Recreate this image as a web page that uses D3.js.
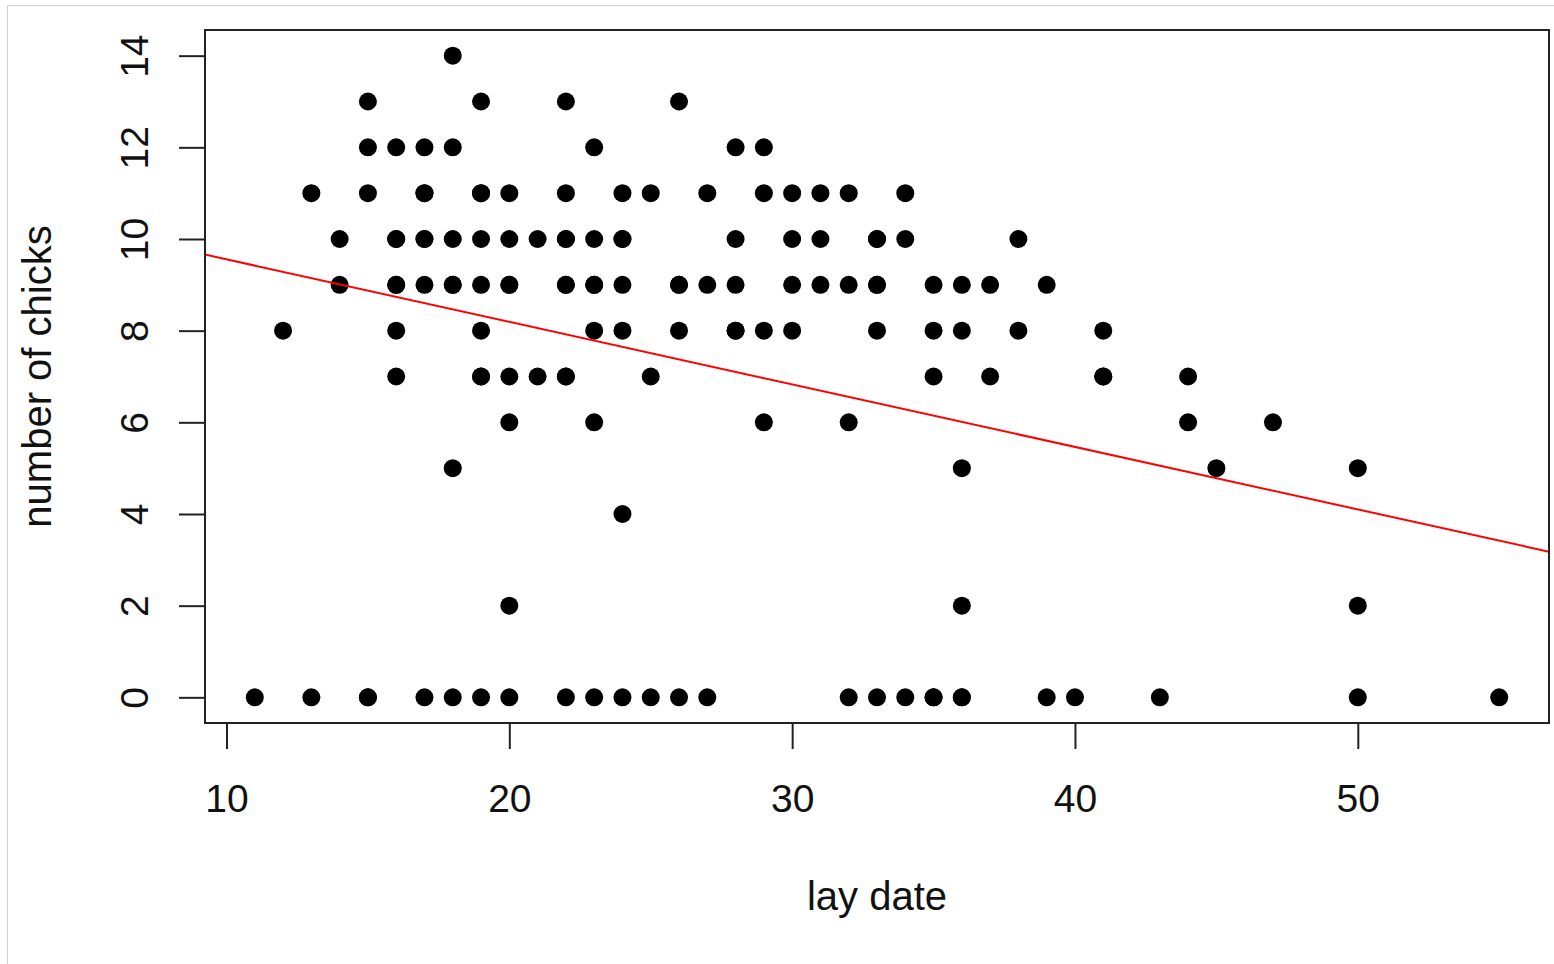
<!DOCTYPE html>
<html>
<head>
<meta charset="utf-8">
<script src="https://cdn.jsdelivr.net/npm/d3@7"></script>
<style>
  body { margin: 0; background: #fff; }
  text { font-family: "Liberation Sans", Arial, Helvetica, sans-serif; fill: #111; }
</style>
</head>
<body>
<div id="chart"></div>
<script>
// lay date (x) and number of chicks (y), one entry per nest
var layDate = [
  11, 12, 13, 13, 14, 14,
  15, 15, 15, 15, 15,
  16, 16, 16, 16, 16, 16, 16,
  17, 17, 17, 17, 17, 17, 17,
  18, 18, 18, 18, 18, 18, 18,
  19, 19, 19, 19, 19, 19, 19, 19, 19,
  20, 20, 20, 20, 20, 20, 20, 20,
  21, 21,
  22, 22, 22, 22, 22, 22, 22, 22, 22,
  23, 23, 23, 23, 23, 23, 23,
  24, 24, 24, 24, 24, 24, 24,
  25, 25, 25,
  26, 26, 26, 26, 26,
  27, 27, 27,
  28, 28, 28, 28, 28,
  29, 29, 29, 29,
  30, 30, 30, 30,
  31, 31, 31,
  32, 32, 32, 32,
  33, 33, 33, 33, 33, 33,
  34, 34, 34,
  35, 35, 35, 35, 35,
  36, 36, 36, 36, 36, 36,
  37, 37,
  38, 38,
  39, 39,
  40,
  41, 41, 41,
  43,
  44, 44,
  45,
  47,
  50, 50, 50,
  55
];
var chicks = [
  0, 8, 11, 0, 10, 9,
  13, 12, 11, 0, 0,
  12, 10, 10, 9, 9, 8, 7,
  12, 11, 11, 10, 10, 9, 0,
  14, 12, 10, 9, 9, 5, 0,
  13, 11, 11, 10, 9, 8, 7, 7, 0,
  11, 10, 9, 9, 7, 6, 2, 0,
  10, 7,
  13, 11, 10, 10, 9, 9, 7, 7, 0,
  12, 10, 9, 9, 8, 6, 0,
  11, 10, 10, 9, 8, 4, 0,
  11, 7, 0,
  13, 9, 9, 8, 0,
  11, 9, 0,
  12, 10, 9, 8, 8,
  12, 11, 8, 6,
  11, 10, 9, 8,
  11, 10, 9,
  11, 9, 6, 0,
  10, 10, 9, 9, 8, 0,
  11, 10, 0,
  9, 8, 7, 0, 0,
  9, 8, 5, 2, 0, 0,
  9, 7,
  10, 8,
  9, 0,
  0,
  8, 7, 7,
  0,
  7, 6,
  5,
  6,
  5, 2, 0,
  0
];

// fitted line: chicks = intercept + slope * layDate
var fitIntercept = 10.92;
var fitSlope = -0.1364;

var xTicks = [10, 20, 30, 40, 50];
var yTicks = [0, 2, 4, 6, 8, 10, 12, 14];

var width = 1554, height = 964;
var plot = { left: 205, right: 1549, top: 30, bottom: 723 };

var svg = d3.select("#chart").append("svg")
    .attr("width", width)
    .attr("height", height);

// faint page frame (left and top edges)
svg.append("path")
    .attr("d", "M7.5," + height + "V5.5H" + width)
    .attr("fill", "none")
    .attr("stroke", "#cfcfcf")
    .attr("stroke-width", 1);

// R-style 4% padding on each side of the data range
var xr = d3.extent(layDate), yr = d3.extent(chicks);
var xPad = (xr[1] - xr[0]) * 0.04, yPad = (yr[1] - yr[0]) * 0.04;

var x = d3.scaleLinear()
    .domain([xr[0] - xPad, xr[1] + xPad])
    .range([plot.left, plot.right]);
var y = d3.scaleLinear()
    .domain([yr[0] - yPad, yr[1] + yPad])
    .range([plot.bottom, plot.top]);

var points = layDate.map(function(d, i) { return { x: d, y: chicks[i] }; });

// clip for the regression line
svg.append("clipPath").attr("id", "clip")
  .append("rect")
    .attr("x", plot.left).attr("y", plot.top)
    .attr("width", plot.right - plot.left)
    .attr("height", plot.bottom - plot.top);

svg.append("g").selectAll("circle")
    .data(points)
  .enter().append("circle")
    .attr("cx", function(d) { return x(d.x); })
    .attr("cy", function(d) { return y(d.y); })
    .attr("r", 9)
    .style("fill", "#000");

var x0 = x.domain()[0], x1 = x.domain()[1];
svg.append("line")
    .attr("clip-path", "url(#clip)")
    .attr("x1", x(x0))
    .attr("y1", y(fitIntercept + fitSlope * x0))
    .attr("x2", x(x1))
    .attr("y2", y(fitIntercept + fitSlope * x1))
    .attr("stroke", "#ff0000")
    .attr("stroke-width", 2);

// plot box
svg.append("rect")
    .attr("x", plot.left).attr("y", plot.top)
    .attr("width", plot.right - plot.left)
    .attr("height", plot.bottom - plot.top)
    .attr("fill", "none")
    .attr("stroke", "#222")
    .attr("stroke-width", 2);

// x axis
var xAxis = svg.append("g")
    .attr("transform", "translate(0," + plot.bottom + ")")
    .call(d3.axisBottom(x).tickValues(xTicks).tickSize(26).tickFormat(d3.format("d")));
xAxis.select(".domain").remove();
xAxis.selectAll(".tick line").attr("stroke", "#222").attr("stroke-width", 2);
xAxis.selectAll(".tick text")
    .attr("y", 89)
    .attr("dy", 0)
    .style("font-size", "39px")
    .style("font-family", "'Liberation Sans', Arial, sans-serif")
    .attr("fill", "#111");

// y axis
var yAxis = svg.append("g")
    .attr("transform", "translate(" + plot.left + ",0)")
    .call(d3.axisLeft(y).tickValues(yTicks).tickSize(26).tickFormat(d3.format("d")));
yAxis.select(".domain").remove();
yAxis.selectAll(".tick line").attr("stroke", "#222").attr("stroke-width", 2);
yAxis.selectAll(".tick text")
    .attr("x", 0)
    .attr("dy", 0)
    .attr("text-anchor", "middle")
    .attr("transform", "translate(-57,0) rotate(-90)")
    .style("font-size", "39px")
    .style("font-family", "'Liberation Sans', Arial, sans-serif")
    .attr("fill", "#111");

// axis titles
svg.append("text")
    .attr("x", (plot.left + plot.right) / 2)
    .attr("y", 910)
    .attr("text-anchor", "middle")
    .style("font-size", "40px")
    .text("lay date");

svg.append("text")
    .attr("transform", "translate(51," + (plot.top + plot.bottom) / 2 + ") rotate(-90)")
    .attr("text-anchor", "middle")
    .style("font-size", "40px")
    .text("number of chicks");
</script>
</body>
</html>
